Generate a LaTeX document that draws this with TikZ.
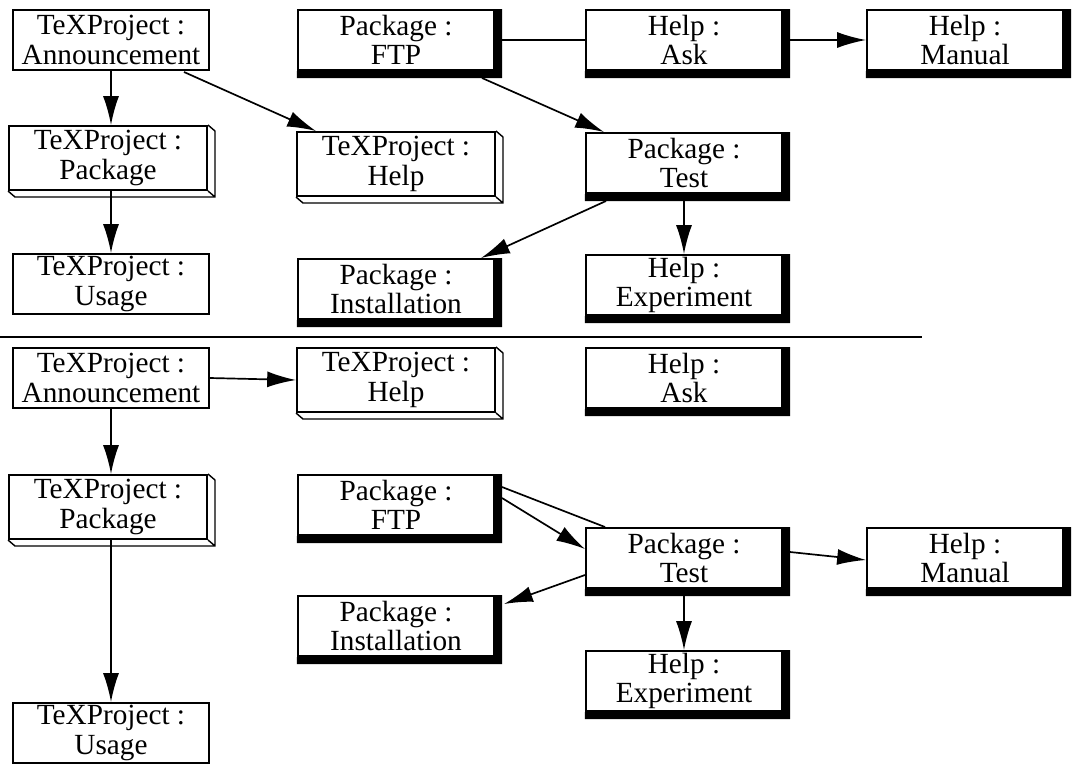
\documentclass[tikz,border=0pt]{standalone}
\usepackage{fontspec}
\setmainfont{Liberation Serif}
\usetikzlibrary{arrows.meta}
\tikzset{%
 >={Latex[length=3.6mm,width=2mm]}
}

\begin{document}
\begin{tikzpicture}[x=.0125cm, y=-.0125cm, line width=.6pt,
  box/.style={draw, line width=.7pt, align=center, inner sep=0pt,
   minimum width=2.45cm, minimum height=.75cm,
   font=\fontsize{10.4}{10.4}\selectfont},
  cube/.style={box, minimum width=2.475cm, minimum height=.8cm}]
 \useasboundingbox (0,0) rectangle (1077,772);

 % first layout
 \node [box]  (annA)  at (111,40)  {TeXProject :\\Announcement};
 \node [cube] (pkgA)  at (108,158) {TeXProject :\\Package};
 \node [box]  (useA)  at (111,284) {TeXProject :\\Usage};
 \node [box]  (ftpA)  at (396,40)  {Package :\\FTP};
 \node [cube] (helpA) at (396,164) {TeXProject :\\Help};
 \node [box]  (instA) at (396,289) {Package :\\Installation};
 \node [box]  (askA)  at (684,40)  {Help :\\Ask};
 \node [box]  (testA) at (684,163) {Package :\\Test};
 \node [box]  (expA)  at (684,285) {Help :\\Experiment};
 \node [box]  (manA)  at (965,40)  {Help :\\Manual};

 \draw (0,337) -- (922,337);

 % second layout
 \node [box]  (annB)  at (111,378) {TeXProject :\\Announcement};
 \node [cube] (pkgB)  at (108,507) {TeXProject :\\Package};
 \node [box]  (useB)  at (111,733) {TeXProject :\\Usage};
 \node [cube] (helpB) at (396,380) {TeXProject :\\Help};
 \node [box]  (ftpB)  at (396,505) {Package :\\FTP};
 \node [box]  (instB) at (396,626) {Package :\\Installation};
 \node [box]  (askB)  at (684,378) {Help :\\Ask};
 \node [box]  (testB) at (684,558) {Package :\\Test};
 \node [box]  (expB)  at (684,681) {Help :\\Experiment};
 \node [box]  (manB)  at (965,558) {Help :\\Manual};

 % heavy shadows
 \foreach \n in {ftpA,instA,askA,testA,expA,manA,ftpB,instB,askB,testB,expB,manB}
  \fill (\n.north east) rectangle ([shift={(7,7)}]\n.south east)
        (\n.south west) rectangle ([shift={(7,7)}]\n.south east);
 % folded edges
 \foreach \n in {pkgA,helpA,pkgB,helpB}
  \draw [line width=.5pt] (\n.north east) -- ++(7,6) |- ([shift={(7,6)}]\n.south west)
        -- (\n.south west) (\n.south east) -- ++(7,6);

 \draw [->] (annA.south) -- (annA.south |- pkgA.north);
 \draw [->] (pkgA.south -| useA.north) -- (useA.north);
 \draw [->] ([shift={(-26,1)}]annA.south east) -- ([shift={(20,0)}]helpA.north west);
 \draw (ftpA.east) -- (askA.west);
 \draw [->] (askA.east) -- (manA.west);
 \draw [->] ([shift={(-13,7)}]ftpA.south east) -- ([shift={(19,0)}]testA.north west);
 \draw [->] ([shift={(21,7)}]testA.south west) -- ([shift={(-14,0)}]instA.north east);
 \draw [->] (testA.south) -- (expA.north);

 \draw [->] (annB.east) -- (helpB.west);
 \draw [->] (annB.south) -- (annB.south |- pkgB.north);
 \draw [->] (pkgB.south -| useB.north) -- (useB.north);
 \draw ([shift={(7,-18)}]ftpB.east) -- ([shift={(20,0)}]testB.north west);
 \draw [->] ([shift={(7,-7)}]ftpB.east) -- ([shift={(0,-9)}]testB.west);
 \draw [->] ([shift={(7,-6)}]testB.east) -- ([shift={(0,2)}]manB.west);
 \draw [->] ([shift={(0,17)}]testB.west) -- ([shift={(9,9)}]instB.north east);
 \draw [->] (testB.south) -- (expB.north);
\end{tikzpicture}
\end{document}
